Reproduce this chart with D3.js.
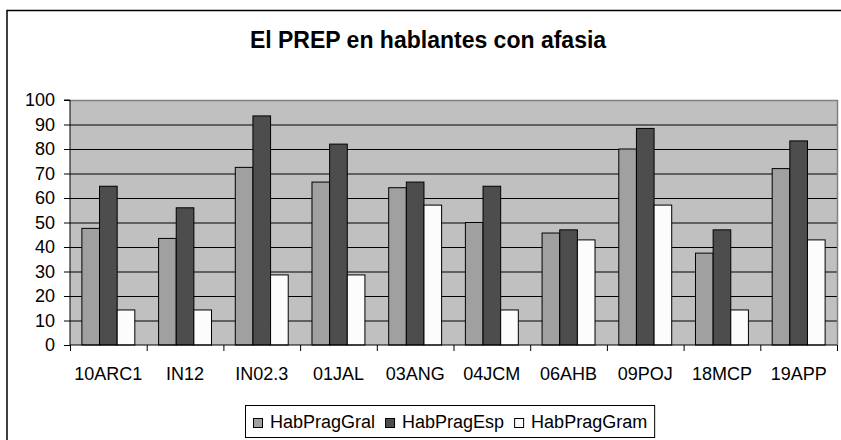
<!DOCTYPE html>
<html>
<head>
<meta charset="utf-8">
<script src="https://cdnjs.cloudflare.com/ajax/libs/d3/7.8.5/d3.min.js"></script>
<style>
  body { margin: 0; background: #fff; }
  svg { display: block; font-family: "Liberation Sans", Arial, sans-serif; }
</style>
</head>
<body>
<div id="chart"></div>
<script>
// data
var categories = ["10ARC1", "IN12", "IN02.3", "01JAL", "03ANG", "04JCM", "06AHB", "09POJ", "18MCP", "19APP"];
var seriesNames = ["HabPragGral", "HabPragEsp", "HabPragGram"];
var gral = [47.6, 43.5, 72.5, 66.5, 64.2, 50, 45.7, 80, 37.5, 72];
var esp  = [64.8, 56, 93.5, 82, 66.5, 64.8, 47, 88.4, 47, 83.3];
var gram = [14.3, 14.3, 28.6, 28.6, 57.1, 14.3, 42.9, 57.1, 14.3, 42.9];
var yTicks = [0, 10, 20, 30, 40, 50, 60, 70, 80, 90, 100];

var W = 841, H = 440;
var plot = {left: 70, right: 837, top: 100, bottom: 345};
var colors = ["#a0a0a0", "#4d4d4d", "#fcfcfc"];

var svg = d3.select("#chart")
  .append("svg")
    .attr("width", W)
    .attr("height", H);

// chart frame (runs off the right / bottom edge like the picture)
svg.append("rect")
  .attr("x", 7).attr("y", 10.5)
  .attr("width", 900).attr("height", 500)
  .attr("fill", "#fff")
  .attr("stroke", "#000")
  .attr("stroke-width", 1.5);

// title
svg.append("text")
  .attr("x", 428)
  .attr("y", 48)
  .attr("text-anchor", "middle")
  .attr("font-size", "23px")
  .attr("font-weight", "bold")
  .text("El PREP en hablantes con afasia");

// scales
var x = d3.scaleBand()
  .domain(categories)
  .range([plot.left, plot.right])
  .padding(0);

var gap = x.bandwidth() * 0.155;
var xSub = d3.scaleBand()
  .domain(seriesNames)
  .range([gap, x.bandwidth() - gap])
  .padding(0);

var y = d3.scaleLinear()
  .domain([0, 100])
  .range([plot.bottom, plot.top]);

// plot background
svg.append("rect")
  .attr("x", plot.left).attr("y", plot.top)
  .attr("width", plot.right - plot.left)
  .attr("height", plot.bottom - plot.top)
  .attr("fill", "#c0c0c0");

// grid lines
svg.append("g")
  .selectAll("line")
  .data(yTicks.filter(function(d) { return d > 0 && d < 100; }))
  .enter()
  .append("line")
    .attr("x1", plot.left).attr("x2", plot.right)
    .attr("y1", function(d) { return y(d) + 0.5; })
    .attr("y2", function(d) { return y(d) + 0.5; })
    .attr("stroke", "#000")
    .attr("stroke-width", 1);

// plot border (top / right in gray)
svg.append("path")
  .attr("d", "M" + plot.left + "," + (plot.top + 0.5) + "H" + (plot.right + 0.5) + "V" + plot.bottom)
  .attr("fill", "none")
  .attr("stroke", "#808080")
  .attr("stroke-width", 1.5);

// bars
var table = categories.map(function(c, i) {
  return {name: c, values: [gral[i], esp[i], gram[i]]};
});

svg.append("g")
  .selectAll("g")
  .data(table)
  .enter()
  .append("g")
    .attr("transform", function(d) { return "translate(" + x(d.name) + ",0)"; })
  .selectAll("rect")
  .data(function(d) { return seriesNames.map(function(key, k) { return {key: key, value: d.values[k], k: k}; }); })
  .enter().append("rect")
    .attr("x", function(d) { return xSub(d.key); })
    .attr("width", xSub.bandwidth())
    .attr("y", function(d) { return y(d.value); })
    .attr("height", function(d) { return y(0) - y(d.value); })
    .attr("fill", function(d) { return colors[d.k]; })
    .attr("stroke", "#000")
    .attr("stroke-width", 1);

// y axis
var yAxis = svg.append("g")
  .attr("transform", "translate(" + plot.left + ",0)")
  .call(d3.axisLeft(y).tickValues(yTicks).tickSize(6).tickPadding(9).tickFormat(d3.format("d")));
yAxis.select(".domain").attr("stroke", "#000").attr("d", "M-6," + plot.top + "H0V" + plot.bottom);
yAxis.selectAll("text").attr("font-size", "18px").attr("fill", "#000").attr("font-family", null);

// x axis: labels centred on bands, tick marks on band boundaries
var xAxis = svg.append("g")
  .attr("transform", "translate(0," + plot.bottom + ")")
  .call(d3.axisBottom(x).tickSize(0).tickPadding(0));
xAxis.select(".domain").remove();
xAxis.selectAll("text")
  .attr("font-size", "18px")
  .attr("fill", "#000")
  .attr("font-family", null)
  .attr("y", 22)
  .attr("dy", "0.71em");

var edges = d3.scaleLinear().domain([0, categories.length]).range([plot.left, plot.right]);
svg.append("g")
  .attr("transform", "translate(0," + plot.bottom + ")")
  .call(d3.axisBottom(edges).tickValues(d3.range(0, categories.length + 1)).tickSize(6).tickFormat(""))
  .select(".domain").attr("d", "M" + plot.left + ",0H" + plot.right);

// legend
var legend = svg.append("g");
var legendBox = legend.append("rect")
  .attr("y", 405.5)
  .attr("height", 32)
  .attr("fill", "#fff")
  .attr("stroke", "#000")
  .attr("stroke-width", 1);

var lx = 253;
seriesNames.forEach(function(name, i) {
  legend.append("rect")
    .attr("x", lx + 0.5).attr("y", 418.5)
    .attr("width", 9).attr("height", 9)
    .attr("fill", colors[i])
    .attr("stroke", "#000");
  var t = legend.append("text")
    .attr("x", lx + 17)
    .attr("y", 428)
    .attr("font-size", "18px")
    .text(name);
  lx = lx + 17 + t.node().getComputedTextLength() + 10;
});
legendBox.attr("x", 245.5).attr("width", lx - 245 - 3);
</script>
</body>
</html>
